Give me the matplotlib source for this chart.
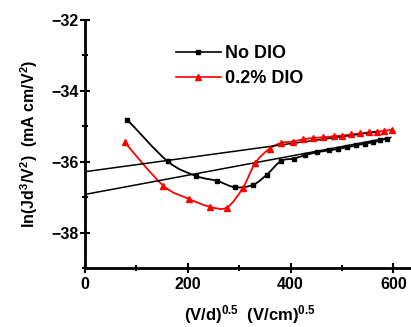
import numpy as np
import matplotlib
matplotlib.use("Agg")
from matplotlib import pyplot as plt
from matplotlib.path import Path
from matplotlib.patches import PathPatch

# data
field_no_dio = [82, 161, 216, 257, 292, 327, 354, 381, 406, 429, 452, 474, 492, 510, 527,
                544, 560, 574, 587]
lnj_no_dio = [-34.81, -35.99, -36.40, -36.54, -36.72, -36.65, -36.36, -35.98, -35.91, -35.81,
              -35.73, -35.68, -35.64, -35.59, -35.54, -35.49, -35.45, -35.40, -35.35]

field_dio = [77, 152, 203, 243, 276, 307, 331, 359, 382, 404, 424, 444, 463, 484, 501, 518,
             536, 552, 568, 582, 598]
lnj_dio = [-35.45, -36.67, -37.05, -37.27, -37.29, -36.74, -36.04, -35.63, -35.47, -35.43,
           -35.37, -35.33, -35.31, -35.28, -35.26, -35.23, -35.20, -35.17, -35.15, -35.13, -35.09]

# linear fits (intercept, slope) and their x ranges
fit_no_dio = (-36.92, 0.0027, 0, 595)
fit_dio = (-36.28, 0.00198, 0, 569)

plt.rcParams['font.family'] = 'Liberation Sans'
plt.rcParams['font.weight'] = 'bold'
plt.rcParams['mathtext.fontset'] = 'custom'
plt.rcParams['mathtext.bf'] = 'Liberation Sans:bold'
plt.rcParams['mathtext.rm'] = 'Liberation Sans:bold'
plt.rcParams['mathtext.default'] = 'bf'


def smooth_path(ax, xs, ys, color):
    # Catmull-Rom curve through the points, drawn as cubic beziers
    pts = ax.transData.transform(np.column_stack([xs, ys]))
    verts = [pts[0]]
    codes = [Path.MOVETO]
    for i in range(len(pts) - 1):
        p0 = pts[max(i - 1, 0)]
        p1 = pts[i]
        p2 = pts[i + 1]
        p3 = pts[min(i + 2, len(pts) - 1)]
        c1 = p1 + (p2 - p0) / 6
        c2 = p2 - (p3 - p1) / 6
        verts += [c1, c2, p2]
        codes += [Path.CURVE4] * 3
    path = ax.transData.inverted().transform_path(Path(verts, codes))
    ax.add_patch(PathPatch(path, facecolor='none', edgecolor=color, lw=1.3))


fig = plt.figure(figsize=(4.11, 3.27), dpi=100)
ax = fig.add_axes([0.207, 0.18, 0.80, 0.759])
ax.set_xlim(0, 640)
ax.set_ylim(-39, -32)

for b, m, x0, x1 in (fit_no_dio, fit_dio):
    xx = np.array([x0, x1])
    ax.plot(xx, b + m * xx, color='black', lw=1.1)

ax.plot(field_no_dio, lnj_no_dio, 's', color='black', ms=3.5)
ax.plot(field_dio, lnj_dio, '^', color='red', ms=4.5)
fig.canvas.draw()
smooth_path(ax, field_no_dio, lnj_no_dio, 'black')
smooth_path(ax, field_dio, lnj_dio, 'red')

h1, = ax.plot([], [], '-s', color='black', ms=3.5, lw=1.2)
h2, = ax.plot([], [], '-^', color='red', ms=4.5, lw=1.2)
ax.legend([h1, h2], ['No DIO', '0.2% DIO'], loc='upper left', bbox_to_anchor=(0.25, 0.935),
          frameon=False, handlelength=2.45, handletextpad=0.25, borderpad=0, labelspacing=0.45,
          prop={'weight': 'bold', 'size': 13})

ax.spines['top'].set_visible(False)
ax.spines['right'].set_visible(False)
ax.spines['left'].set_linewidth(2)
ax.spines['bottom'].set_linewidth(2)
ax.set_xticks([0, 200, 400, 600])
ax.set_xticks([100, 300, 500], minor=True)
ax.set_yticks([-38, -36, -34, -32])
ax.set_yticks([-39, -37, -35, -33], minor=True)
ax.tick_params(which='major', direction='inout', length=7, width=1.5, labelsize=11.5)
ax.tick_params(which='minor', direction='inout', length=4, width=1.5)
ax.tick_params(axis='x', pad=3)
ax.tick_params(axis='y', pad=1)

ax.set_xlabel(r'(V/d)$^{0.5}$  (V/cm)$^{0.5}$', fontsize=12, fontweight='bold', labelpad=8)
ax.set_ylabel(r'ln(Jd$^3$/V$^2$)  (mA cm/V$^2$)', fontsize=11.5, fontweight='bold', labelpad=8)

fig.savefig('out.png', dpi=100)
